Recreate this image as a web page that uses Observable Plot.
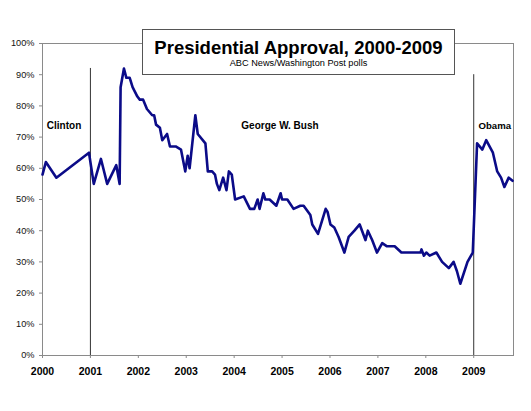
<!DOCTYPE html>
<html>
<head>
<meta charset="utf-8">
<script src="https://cdn.jsdelivr.net/npm/d3@7"></script>
<script src="https://cdn.jsdelivr.net/npm/@observablehq/plot@0.6"></script>
<style>
  html, body { margin: 0; padding: 0; background: #fff; }
  #wrap { position: relative; width: 531px; height: 411px; font-family: "Liberation Sans", Arial, sans-serif; }
  #title-box {
    position: absolute; left: 142px; top: 29px; width: 311px; height: 44px;
    border: 1px solid #555; background: #fff; text-align: center; color: #000;
  }
  #title-box .t { font-weight: bold; font-size: 18.5px; line-height: 21px; margin-top: 7px; }
  #title-box .s { font-size: 9.2px; line-height: 11px; }
  g[aria-label="x-axis tick label"] text { font-weight: bold; font-size: 10.5px; }
  g[aria-label="y-axis tick label"] text { font-size: 9.2px; }
</style>
</head>
<body>
<div id="wrap">
  <div id="chart"></div>
  <div id="title-box">
    <div class="t">Presidential Approval, 2000-2009</div>
    <div class="s">ABC News/Washington Post polls</div>
  </div>
</div>
<script>
// Poll dates as decimal years and approval percentages
const pollYear = [
  2000.00, 2000.07, 2000.29, 2000.97, 2001.07, 2001.22, 2001.35, 2001.54, 2001.61, 2001.63,
  2001.70, 2001.75, 2001.82, 2001.88, 2001.98, 2002.03, 2002.10, 2002.18, 2002.29, 2002.33,
  2002.37, 2002.45, 2002.50, 2002.60, 2002.66, 2002.78, 2002.89, 2002.98, 2003.03, 2003.07,
  2003.19, 2003.24, 2003.40, 2003.45, 2003.54, 2003.60, 2003.64, 2003.69, 2003.77, 2003.84,
  2003.89, 2003.95, 2004.02, 2004.20, 2004.33, 2004.42, 2004.49, 2004.53, 2004.61, 2004.65,
  2004.74, 2004.88, 2004.97, 2005.00, 2005.11, 2005.24, 2005.38, 2005.45, 2005.59, 2005.63,
  2005.75, 2005.91, 2005.95, 2006.01, 2006.09, 2006.18, 2006.30, 2006.39, 2006.51, 2006.62,
  2006.74, 2006.79, 2006.88, 2006.98, 2007.09, 2007.19, 2007.35, 2007.49, 2007.89, 2007.91,
  2007.96, 2008.01, 2008.08, 2008.22, 2008.34, 2008.48, 2008.58, 2008.65, 2008.72, 2008.87,
  2008.98, 2009.07, 2009.18, 2009.26, 2009.40, 2009.49, 2009.57, 2009.64, 2009.73, 2009.81
];
const approve = [
  58, 62, 57, 65, 55, 63, 55, 61, 55, 86,
  92, 89, 89, 86, 83, 82, 82, 79, 77, 77,
  74, 73, 69, 71, 67, 67, 66, 59, 64, 60,
  77, 71, 68, 59, 59, 58, 55, 53, 57, 53,
  59, 58, 50, 51, 47, 47, 50, 47, 52, 50,
  50, 48, 52, 50, 50, 47, 48, 48, 45, 42,
  39, 47, 46, 42, 41, 38, 33, 38, 40, 42,
  37, 40, 37, 33, 36, 35, 35, 33, 33, 34,
  32, 33, 32, 33, 30, 28, 30, 27, 23, 30,
  33, 68, 66, 69, 65, 59, 57, 54, 57, 56
];

// Axis ticks
const yearTicks = [2000, 2001, 2002, 2003, 2004, 2005, 2006, 2007, 2008, 2009];
const pctTicks = [0, 10, 20, 30, 40, 50, 60, 70, 80, 90, 100];

// Inauguration dividers and the height each one reaches
const dividerYear = [2001, 2009];
const dividerTop = [92, 90];

// Presidency names
const eras = ["Clinton", "George W. Bush", "Obama"];

const polls = pollYear.map((x, i) => ({x, y: approve[i]}));
const dividers = dividerYear.map((x, i) => ({x, top: dividerTop[i]}));
const eraX = [2000.09, 2004.15, 2009.10];
const eraSize = [10, 10, 9.6];
const eraLabels = eras.map((name, i) => ({name, x: eraX[i], y: 73.7, size: eraSize[i]}));

const chart = Plot.plot({
  width: 531,
  height: 411,
  marginLeft: 42,
  marginRight: 18,
  marginTop: 43,
  marginBottom: 56,
  style: {fontFamily: "Liberation Sans, Arial, sans-serif", color: "#111", background: "#fff"},
  x: {domain: [2000, 2009.83], label: null},
  y: {domain: [0, 100], label: null},
  marks: [
    Plot.frame({stroke: "#8a8a8a"}),
    Plot.axisY({ticks: pctTicks, tickFormat: d => d + "%", tickSize: 3, tickPadding: 5, stroke: "#8a8a8a", fill: "#111", fontSize: 9.2, label: null}),
    Plot.axisX({ticks: yearTicks, tickFormat: d => String(d), tickSize: 3, tickPadding: 9, stroke: "#8a8a8a", fill: "#000", fontSize: 10.5, fontWeight: "bold", label: null}),
    Plot.ruleX(dividers, {x: "x", y1: 0, y2: "top", stroke: "#333", strokeWidth: 1}),
    Plot.line(polls, {x: "x", y: "y", stroke: "#0b0b88", strokeWidth: 2.6, strokeLinejoin: "round", curve: "linear"}),
    ...eraLabels.map(d => Plot.text([d], {x: "x", y: "y", text: "name", textAnchor: "start", fontSize: d.size, fontWeight: "bold", fill: "#000"}))
  ]
});
document.getElementById("chart").appendChild(chart);
</script>
</body>
</html>
